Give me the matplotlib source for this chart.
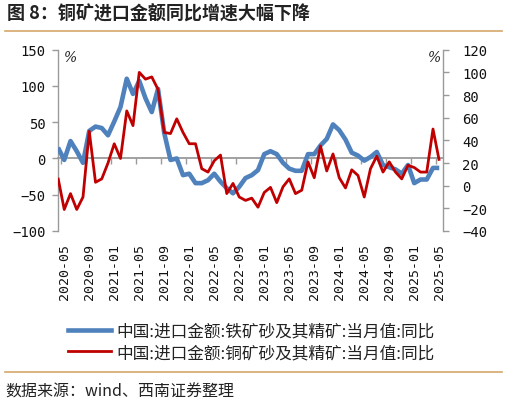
import matplotlib
matplotlib.use('Agg')
import matplotlib.pyplot as plt
from matplotlib.lines import Line2D
import numpy as np
import pandas as pd

# ---------------- data ----------------
months = [p.strftime('%Y-%m') for p in pd.period_range('2020-04', '2025-05', freq='M')]

iron_yoy = [15, -2, 24, 10, -6, 38, 44, 42, 32, 51,
            71, 110, 89, 107, 83, 64, 96, 35, -2, 0,
            -23, -21, -34, -34, -30, -21, -32, -41, -48, -39,
            -27, -23, -16, 6, 10, 6, -6, -14, -17, -17,
            6, 6, 18, 27, 47, 39, 26, 8, 4, -3,
            2, 9, -9, -12, -15, -21, -9, -34, -29, -29,
            -13, -13]

copper_yoy = [7, -21, -7, -21, -10, 48, 3, 6, 20, 37,
              24, 66, 53, 100, 94, 96, 85, 47, 46, 59,
              47, 37, 37, 15, 12, 22, 27, -7, 2, -10,
              -13, -11, -19, -6, -1.5, -15, -1, 6, -7, -4,
              21, 7, 35, 13, 28, 7, -2, 14, 9, -10,
              15, 26, 12, 21, 12, 6, 18, 16, 12, 12,
              50, 22]

series_names = ['中国:进口金额:铁矿砂及其精矿:当月值:同比',
                '中国:进口金额:铜矿砂及其精矿:当月值:同比']
left_ticks = [-100, -50, 0, 50, 100, 150]
right_ticks = [-40, -20, 0, 20, 40, 60, 80, 100, 120]
title = '图 8：铜矿进口金额同比增速大幅下降'
source = '数据来源：wind、西南证券整理'

# ---------------- style ----------------
plt.rcParams['font.family'] = ['Noto Sans CJK SC', 'DejaVu Sans']
BLUE = '#4F81BD'
RED = '#C00000'
GRAY = '#9A9A9A'
RULE = '#D4A76A'
MONO = 'DejaVu Sans Mono'

W, H = 508, 406
fig = plt.figure(figsize=(W / 100, H / 100), dpi=100)

left_px, right_px, top_px, bot_px = 58, 443, 50.7, 232
ax = fig.add_axes([left_px / W, 1 - bot_px / H, (right_px - left_px) / W, (bot_px - top_px) / H])
ax2 = ax.twinx()

x = np.arange(len(months))
ax.plot(x, iron_yoy, color=BLUE, lw=3.3, solid_joinstyle='round', solid_capstyle='butt', zorder=3)
ax2.plot(x, copper_yoy, color=RED, lw=2.0, solid_joinstyle='round', solid_capstyle='butt', zorder=3)

ax.set_xlim(0, 61.6)
ax.set_ylim(-100, 150)
ax2.set_ylim(-40, 120)
ax.set_yticks(left_ticks)
ax2.set_yticks(right_ticks)

for a in (ax, ax2):
    a.spines['top'].set_visible(False)
    a.set_facecolor('none')
ax2.spines['bottom'].set_visible(False)
ax2.spines['left'].set_visible(False)
ax.spines['right'].set_visible(False)

ax.spines['left'].set_color(GRAY)
ax.spines['left'].set_linewidth(1.0)
ax2.spines['right'].set_color(GRAY)
ax2.spines['right'].set_linewidth(1.0)

# zero line as bottom spine
ax.spines['bottom'].set_position(('data', 0))
ax.spines['bottom'].set_color(GRAY)
ax.spines['bottom'].set_linewidth(1.3)
ax.set_xticks(np.arange(0.5, 61, 4))
ax.tick_params(axis='x', direction='out', length=4, width=1.0, color=GRAY, labelbottom=False)

ax.tick_params(axis='y', direction='out', length=4, width=1.0, color=GRAY, pad=5,
               labelsize=10, labelcolor='#111111')
ax2.tick_params(axis='y', direction='out', length=4, width=1.0, color=GRAY, pad=10,
                labelsize=10, labelcolor='#111111')
for lab in ax.get_yticklabels() + ax2.get_yticklabels():
    lab.set_fontfamily(MONO)

# date labels at bottom of the axes
sec = ax.secondary_xaxis('bottom')
sec.set_xticks(x[1::4], labels=months[1::4])
sec.tick_params(length=0, pad=9, labelsize=9.5, labelcolor='#111111')
for lab in sec.get_xticklabels():
    lab.set_rotation(90)
    lab.set_fontfamily(MONO)
sec.spines['bottom'].set_visible(False)

# percent markers
fig.text(64 / W, 1 - 58 / H, '%', fontsize=10, family='DejaVu Serif', style='italic',
         ha='left', va='center', color='#222222')
fig.text(441 / W, 1 - 58 / H, '%', fontsize=10, family='DejaVu Serif', style='italic',
         ha='right', va='center', color='#222222')

# legend
handles = [Line2D([], [], color=BLUE, lw=3.3), Line2D([], [], color=RED, lw=2.0)]
fig.legend(handles, series_names, loc='center', bbox_to_anchor=(0.494, 1 - 343 / H),
           frameon=False, fontsize=12, handlelength=2.6, handletextpad=0.3,
           labelspacing=0.25, labelcolor='#222222', borderpad=0.2)

# title, rules, source
fig.text(7 / W, 1 - 14.5 / H, title, fontsize=13, fontweight='bold', ha='left', va='center',
         color='#222222')
fig.add_artist(Line2D([5 / W, 502 / W], [1 - 31.7 / H] * 2, color=RULE, lw=1.2,
                      transform=fig.transFigure))
fig.add_artist(Line2D([5 / W, 502 / W], [1 - 373 / H] * 2, color=RULE, lw=1.2,
                      transform=fig.transFigure))
fig.text(5 / W, 1 - 392 / H, source, fontsize=11.5, style='italic', ha='left', va='center',
         color='#222222')

fig.savefig('out.png', dpi=100)
